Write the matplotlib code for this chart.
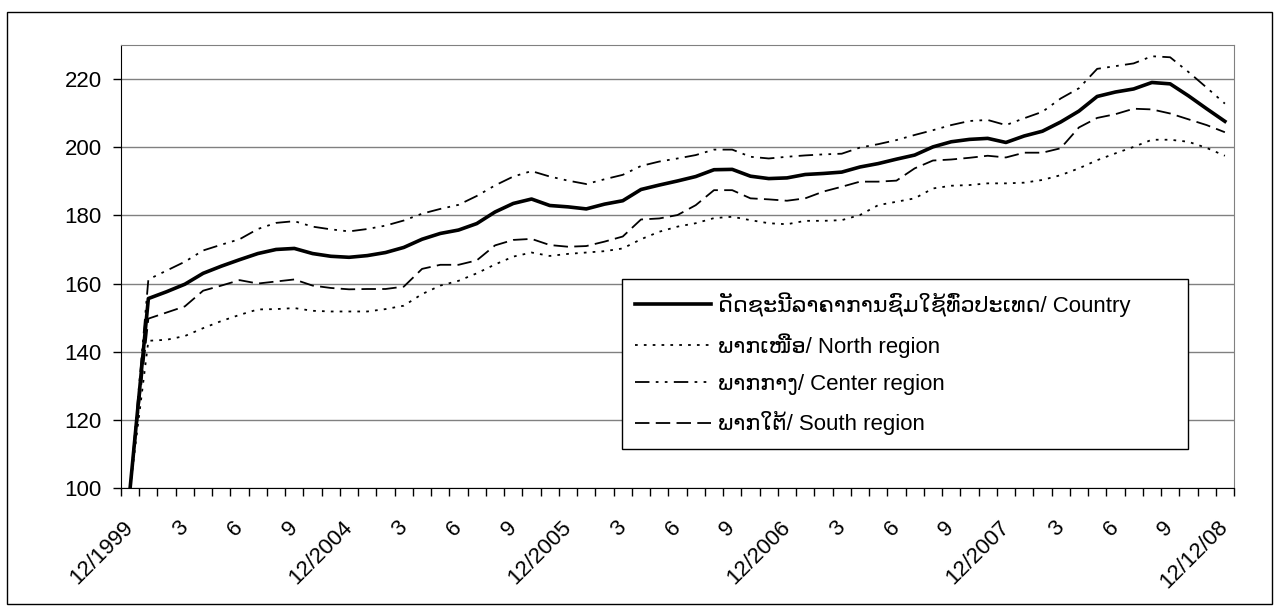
import matplotlib
matplotlib.use('Agg')
import matplotlib.pyplot as plt
from matplotlib.patches import Rectangle

plt.rcParams['font.family'] = ['Liberation Sans', 'DejaVu Sans']

# 12/1999 base, then monthly 1/2004 .. 12/2008
tick_labels = ['12/1999', '3', '6', '9', '12/2004', '3', '6', '9', '12/2005',
               '3', '6', '9', '12/2006', '3', '6', '9', '12/2007',
               '3', '6', '9', '12/12/08']

country = [100, 155.6, 157.6, 159.8, 163.0, 165.1, 167.0, 168.8, 170.0, 170.3,
           168.8, 168.0, 167.7, 168.2, 169.1, 170.6, 173.0, 174.7, 175.7, 177.6,
           181.0, 183.5, 184.8, 182.9, 182.5, 181.9, 183.3, 184.3, 187.6, 188.9,
           190.1, 191.4, 193.4, 193.5, 191.5, 190.8, 191.0, 192.0, 192.3, 192.7,
           194.2, 195.2, 196.5, 197.7, 200.1, 201.6, 202.3, 202.6, 201.4, 203.3,
           204.7, 207.4, 210.6, 214.9, 216.2, 217.1, 219.0, 218.6, 215.1, 211.3,
           207.6]
north = [100, 143.2, 143.5, 144.6, 146.9, 149.0, 150.8, 152.4, 152.5, 152.8,
         152.0, 151.8, 151.8, 151.8, 152.5, 153.5, 156.9, 159.4, 160.8, 163.0,
         165.6, 167.9, 169.1, 168.1, 168.7, 169.1, 169.5, 170.3, 173.0, 175.2,
         176.7, 177.7, 179.2, 179.6, 178.6, 177.7, 177.4, 178.4, 178.4, 178.6,
         180.1, 183.0, 184.0, 185.0, 187.9, 188.7, 188.9, 189.4, 189.4, 189.6,
         190.4, 191.8, 193.8, 196.2, 198.2, 200.1, 202.2, 202.2, 201.6, 199.8,
         197.5]
center = [100, 161.2, 163.8, 166.4, 169.7, 171.4, 173.0, 176.0, 177.8, 178.3,
          176.7, 175.9, 175.3, 176.0, 177.0, 178.5, 180.5, 181.9, 183.1, 185.7,
          188.8, 191.4, 193.0, 191.4, 190.2, 189.2, 190.6, 191.9, 194.5, 195.8,
          196.7, 197.7, 199.3, 199.3, 197.2, 196.7, 197.2, 197.6, 197.9, 198.1,
          199.9, 200.9, 202.1, 203.6, 205.0, 206.5, 207.7, 208.0, 206.5, 208.5,
          210.4, 214.3, 217.3, 223.0, 223.8, 224.6, 226.7, 226.4, 222.1, 217.5,
          212.8]
south = [100, 149.7, 151.5, 153.3, 157.9, 159.4, 161.0, 160.0, 160.6, 161.2,
         159.4, 158.7, 158.3, 158.4, 158.4, 159.1, 164.3, 165.5, 165.5, 166.8,
         171.2, 172.8, 173.1, 171.3, 170.8, 171.0, 172.3, 173.8, 178.8, 179.1,
         180.1, 183.0, 187.4, 187.4, 185.0, 184.7, 184.3, 185.0, 187.0, 188.4,
         189.9, 189.9, 190.2, 193.8, 196.1, 196.4, 196.9, 197.5, 197.0, 198.4,
         198.4, 199.7, 205.8, 208.6, 209.7, 211.3, 211.1, 209.9, 208.2, 206.5,
         204.4]

names = ['ດັດຊະນີລາຄາການຊົມໃຊ້ທົ່ວປະເທດ/ Country',
         'ພາກເໜືອ/ North region',
         'ພາກກາງ/ Center region',
         'ພາກໃຕ້/ South region']

W, H = 1276, 612
fig = plt.figure(figsize=(W / 100, H / 100), dpi=100)
ax = fig.add_axes([121 / W, 1 - 488 / H, (1234 - 121) / W, (488 - 45) / H])

x = list(range(len(country)))
ax.plot(x, country, color='black', lw=2.6, label=names[0], zorder=5)
ax.plot(x, north, color='black', lw=1.3, dashes=(1.5, 3.4), label=names[1])
ax.plot(x, center, color='black', lw=1.3,
        dashes=(8, 3.5, 1.5, 3.5, 1.5, 3.5), label=names[2])
ax.plot(x, south, color='black', lw=1.3, dashes=(8, 3.5), label=names[3])

ax.set_xlim(-0.5, len(country) - 0.5)
ax.set_ylim(100, 230)
ax.set_yticks(range(100, 221, 20))
ax.grid(axis='y', color='#808080', lw=1)
ax.set_axisbelow(True)

ax.set_xticks(range(0, len(country), 3))
ax.set_xticklabels(tick_labels, rotation=45, ha='right', va='center',
                   rotation_mode='anchor')
ax.set_xticks([i - 0.5 for i in range(len(country) + 1)], minor=True)
ax.tick_params(axis='x', which='major', length=0, pad=26, labelsize=16)
ax.tick_params(axis='x', which='minor', length=6, width=1, color='black')
ax.tick_params(axis='y', length=6, width=1, pad=8, labelsize=16)

for s in ['top', 'right']:
    ax.spines[s].set_color('#808080')
for s in ['left', 'bottom']:
    ax.spines[s].set_color('black')

leg = ax.legend(loc='upper left',
                bbox_to_anchor=(622 / W, 1 - 450 / H, (1188 - 622) / W, (450 - 279) / H),
                bbox_transform=fig.transFigure, borderaxespad=0, mode='expand',
                fontsize=16, frameon=True, fancybox=False, handlelength=3.4,
                labelspacing=0.73, borderpad=0.6, handletextpad=0.3)
leg.get_frame().set_edgecolor('black')
leg.get_frame().set_linewidth(1)
leg.get_frame().set_alpha(1)

fig.patches.append(Rectangle((7 / W, 1 - 604 / H), (1272 - 7) / W, (604 - 12) / H,
                             transform=fig.transFigure, fill=False,
                             edgecolor='black', lw=1))

fig.savefig('out.png', dpi=100)
